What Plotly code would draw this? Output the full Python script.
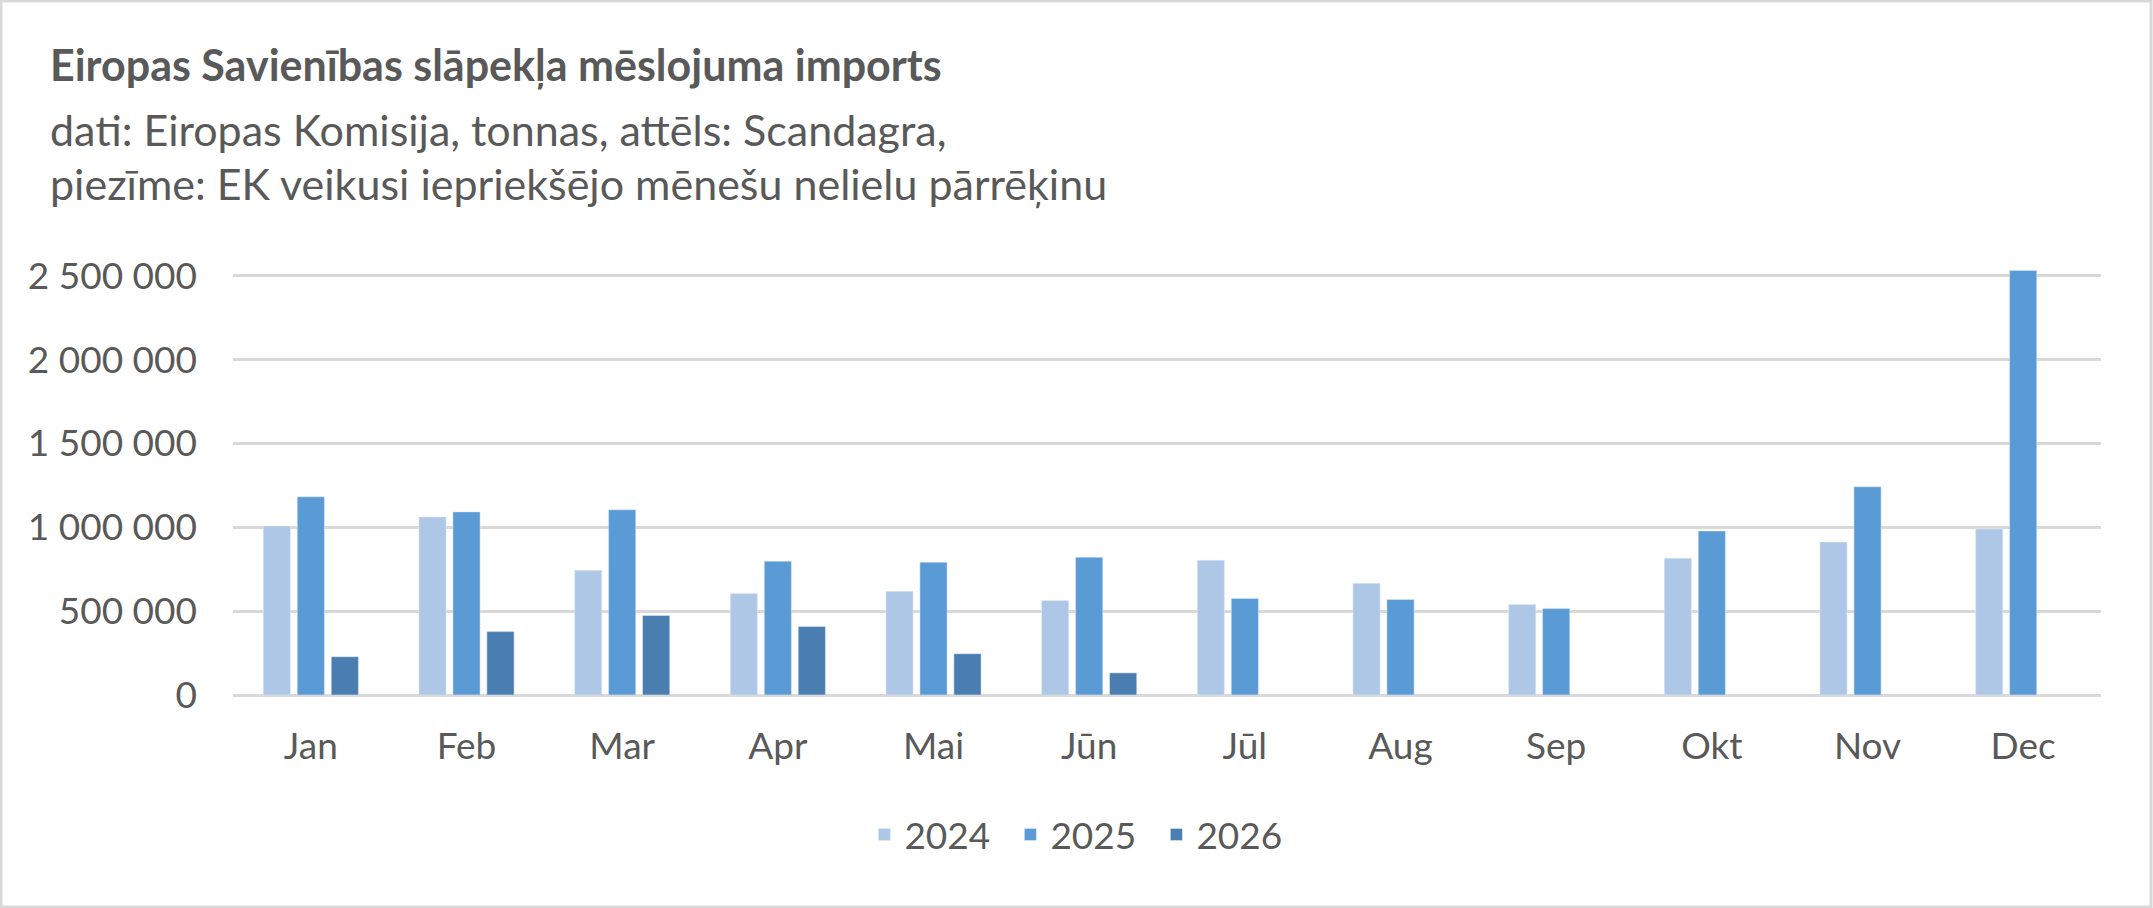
import plotly.graph_objects as go

# monthly EU nitrogen fertiliser imports, tonnes
months = ['Jan', 'Feb', 'Mar', 'Apr', 'Mai', 'Jūn', 'Jūl', 'Aug', 'Sep', 'Okt', 'Nov', 'Dec']
imp_2024 = [1008000, 1062000, 744000, 606000, 618000, 564000, 804000, 666000, 540000, 816000, 912000, 990000]
imp_2025 = [1182000, 1092000, 1104000, 798000, 792000, 822000, 576000, 570000, 516000, 978000, 1242000, 2532000]
imp_2026 = [228000, 378000, 474000, 408000, 246000, 132000, None, None, None, None, None, None]

y_ticks = [0, 500000, 1000000, 1500000, 2000000, 2500000]

title = 'Eiropas Savienības slāpekļa mēslojuma imports'
sub1 = 'dati: Eiropas Komisija, tonnas, attēls: Scandagra,'
sub2 = 'piezīme: EK veikusi iepriekšējo mēnešu nelielu pārrēķinu'

txt = '#595959'
grid = '#d9d9d9'
font = 'Lato, "Open Sans", sans-serif'

fig = go.Figure()
fig.add_trace(go.Bar(x=months, y=imp_2024, name='2024', marker_color='#afc7e6'))
fig.add_trace(go.Bar(x=months, y=imp_2025, name='2025', marker_color='#5b9bd5'))
fig.add_trace(go.Bar(x=months, y=imp_2026, name='2026', marker_color='#4a7eb0'))

fig.update_layout(
    width=2153, height=908,
    margin=dict(l=233, r=52, t=259, b=213),
    paper_bgcolor='white', plot_bgcolor='white',
    font=dict(family=font, size=37, color=txt),
    barmode='group', bargap=0.345, bargroupgap=0.2,
    separators=', ',
    showlegend=True,
    legend=dict(orientation='h', x=0.338, xanchor='left', y=-0.321, yanchor='middle',
                font=dict(size=37, color=txt), itemwidth=30, tracegroupgap=0,
                entrywidth=101, entrywidthmode='pixels'),
)
fig.update_xaxes(showgrid=False, showline=False, ticks='', ticklabelstandoff=26,
                 tickfont=dict(size=37, color=txt))
fig.update_yaxes(range=[0, 2600000], tickvals=y_ticks, tickformat=',d',
                 showgrid=True, gridcolor=grid, gridwidth=3,
                 zeroline=True, zerolinecolor=grid, zerolinewidth=3,
                 showline=False, ticks='', ticklabelstandoff=35,
                 tickfont=dict(size=37, color=txt))

fig.add_annotation(text='<b>' + title + '</b>', xref='paper', yref='paper', x=-0.099, y=1.445,
                   xanchor='left', yanchor='middle', showarrow=False, font=dict(size=43, color=txt))
fig.add_annotation(text=sub1, xref='paper', yref='paper', x=-0.099, y=1.296,
                   xanchor='left', yanchor='middle', showarrow=False, font=dict(size=43, color=txt))
fig.add_annotation(text=sub2, xref='paper', yref='paper', x=-0.099, y=1.174,
                   xanchor='left', yanchor='middle', showarrow=False, font=dict(size=43, color=txt))

# thin grey frame round the whole chart area
fig.add_shape(type='rect', xref='paper', yref='paper', x0=-0.1242, x1=1.0268, y0=-0.4862, y1=1.5917,
              line=dict(color=grid, width=3), fillcolor='rgba(0,0,0,0)', layer='above')

# drop the browser's default body margin so the figure sits at the window corner
fig.write_html('out.html', config={'displayModeBar': False},
               post_script="document.body.style.margin='0';")
